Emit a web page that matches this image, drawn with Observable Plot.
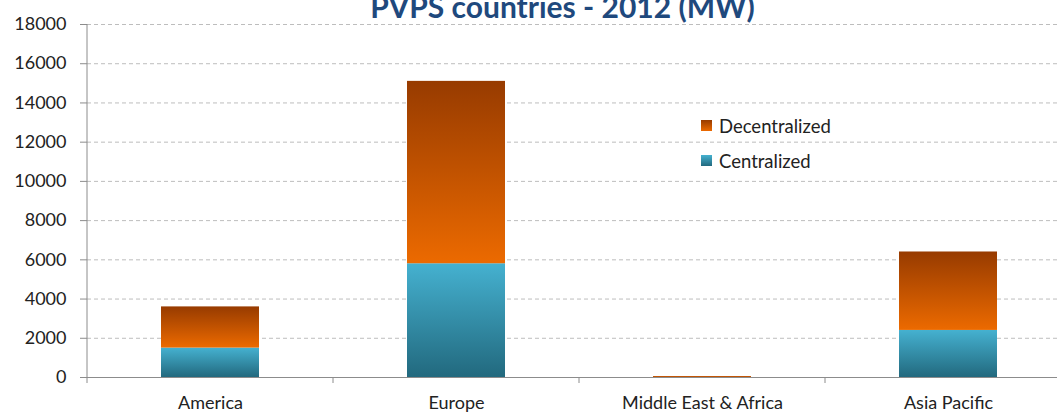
<!DOCTYPE html>
<html><head><meta charset="utf-8">
<script src="https://cdn.jsdelivr.net/npm/d3@7"></script>
<script src="https://cdn.jsdelivr.net/npm/@observablehq/plot@0.6"></script>
<style>
html,body{margin:0;padding:0;background:#fff;overflow:hidden;width:1057px;height:412px;}
#wrap{position:relative;width:1057px;height:412px;overflow:hidden;}
#wrap svg{max-width:none !important;display:block;}
#legend{position:absolute;left:701px;top:108px;font-family:Lato,"Open Sans",sans-serif;font-size:18.5px;color:#222;}
.item{display:flex;align-items:center;height:35px;}
.sw{width:11px;height:11px;margin-right:7px;}
</style></head>
<body><div id="wrap"><div id="legend"></div></div>
<script>
const title = "PVPS countries - 2012 (MW)";
const categories = ["America", "Europe", "Middle East & Africa", "Asia Pacific"];
const centralized = [1500, 5800, 0, 2400];
const decentralized = [2100, 9300, 50, 4000];
const seriesNames = ["Centralized", "Decentralized"];
const yTicks = [0, 2000, 4000, 6000, 8000, 10000, 12000, 14000, 16000, 18000];

const gradIds = {Centralized: "gCen", Decentralized: "gDec"};
const rows = [];
categories.forEach((c, i) => {
  rows.push({category: c, series: "Centralized", value: centralized[i]});
  rows.push({category: c, series: "Decentralized", value: decentralized[i]});
});

const font = 'Lato, "Open Sans", sans-serif';
const chart = Plot.plot({
  width: 1071, height: 412,
  marginTop: 24, marginBottom: 35, marginLeft: 87, marginRight: 0,
  style: {fontFamily: font, fontSize: "18px", color: "#222", background: "transparent", maxWidth: "none"},
  x: {domain: categories, paddingInner: 0.6, paddingOuter: 0.3, label: null},
  y: {domain: [0, 18000], label: null},
  color: {type: "identity"},
  marks: [
    Plot.gridY(yTicks, {stroke: "#bdbdbd", strokeOpacity: 1, strokeDasharray: "4,3"}),
    Plot.barY(rows, {x: "category", y: "value", fill: d => `url(#${gradIds[d.series]})`, z: "series"}),
    Plot.axisY(yTicks, {tickSize: 7, tickPadding: 14, stroke: "#8c8c8c", tickFormat: d => String(d), fill: "#222", fontSize: 18}),
    Plot.ruleY([0], {stroke: "#8c8c8c"}),
    Plot.axisX({tickSize: 0, tickPadding: 19, fontSize: 18, fill: "#222", label: null}),
    Plot.text([title], {frameAnchor: "top", text: d => d, dy: -7, dx: -17, lineAnchor: "bottom", fontSize: 30, fontWeight: "bold", fill: "#1F497D"})
  ]
});

// boundary ticks between categories
const svg = d3.select(chart);
const xs = chart.scale("x");
const y0 = 412 - 35;
const bounds = [];
for (let i = 0; i <= categories.length; i++) bounds.push(87 + i * (xs.range[1] - xs.range[0]) / categories.length);
svg.append("g").selectAll("line").data(bounds).join("line")
  .attr("x1", d => d).attr("x2", d => d).attr("y1", y0).attr("y2", y0 + 6).attr("stroke", "#8c8c8c");
svg.append("line").attr("x1", 87).attr("x2", 87).attr("y1", 24).attr("y2", y0).attr("stroke", "#8c8c8c");

const defs = svg.insert("defs", ":first-child");
const gd = defs.append("linearGradient").attr("id", "gDec").attr("x1", 0).attr("y1", 0).attr("x2", 0).attr("y2", 1);
gd.append("stop").attr("offset", "0%").attr("stop-color", "#973B00");
gd.append("stop").attr("offset", "100%").attr("stop-color", "#EC6A00");
const gc = defs.append("linearGradient").attr("id", "gCen").attr("x1", 0).attr("y1", 0).attr("x2", 0).attr("y2", 1);
gc.append("stop").attr("offset", "0%").attr("stop-color", "#45B1D0");
gc.append("stop").attr("offset", "100%").attr("stop-color", "#22697E");

document.getElementById("wrap").prepend(chart);

const legend = d3.select("#legend");
const legendColors = {Decentralized: "linear-gradient(#973B00,#EC6A00)", Centralized: "linear-gradient(#45B1D0,#22697E)"};
["Decentralized", "Centralized"].forEach(s => {
  const it = legend.append("div").attr("class", "item");
  it.append("div").attr("class", "sw").style("background", legendColors[s]);
  it.append("span").text(s);
});
</script></body></html>
